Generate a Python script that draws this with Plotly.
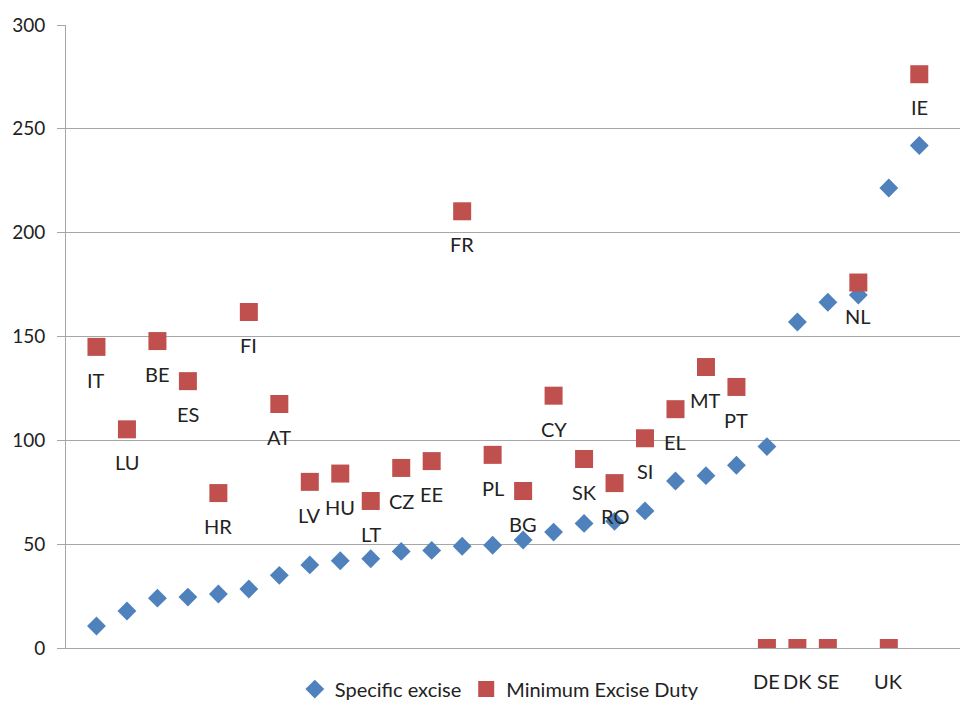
import plotly.graph_objects as go

# Country codes, in chart order
countries = ["IT", "LU", "BE", "ES", "HR", "FI", "AT", "LV", "HU", "LT",
             "CZ", "EE", "FR", "PL", "BG", "CY", "SK", "RO", "SI", "EL",
             "MT", "PT", "DE", "DK", "SE", "NL", "UK", "IE"]

# Specific excise (blue diamonds)
specific = [10.6, 17.8, 24.0, 24.5, 26.0, 28.4, 35.0, 40.0, 42.0, 43.0,
            46.5, 47.0, 49.0, 49.5, 52.0, 55.8, 60.0, 61.0, 66.0, 80.4,
            83.0, 88.0, 97.0, 157.0, 166.5, 170.0, 221.5, 242.0]

# Minimum excise duty (red squares)
minimum = [145.0, 105.3, 147.8, 128.5, 74.6, 161.8, 117.5, 80.0, 84.0, 70.8,
           86.7, 90.0, 210.3, 93.0, 75.6, 121.5, 91.0, 79.4, 101.0, 115.0,
           135.3, 125.7, 0, 0, 0, 176.0, 0, 276.3]

blue = "#4F81BD"
red = "#C0504D"
gray = "#A6A6A6"
font = "Lato"

fig = go.Figure()

fig.add_trace(go.Scatter(x=countries, y=specific, mode="markers",
  name="Specific excise",
  marker=dict(symbol="diamond", size=14.5, color=blue)))
fig.add_trace(go.Scatter(x=countries, y=minimum, mode="markers",
  name="Minimum Excise Duty",
  marker=dict(symbol="square", size=18, color=red)))

# Country labels below each red square
for c, v in zip(countries, minimum):
    fig.add_annotation(x=c, y=v, text=c, showarrow=False, yshift=-33,
      font=dict(family=font, size=20, color="#222222"))

fig.update_xaxes(type="category", range=[-1, 28.5], showticklabels=False,
  showgrid=False, showline=True, linecolor=gray, linewidth=1, ticks="",
  zeroline=False)
fig.update_yaxes(range=[0, 300], dtick=50, showgrid=True, gridcolor=gray,
  gridwidth=1, showline=True, linecolor=gray, linewidth=1, ticks="outside",
  ticklen=8, tickcolor=gray, zeroline=False, ticklabelstandoff=8,
  tickfont=dict(family=font, size=19, color="#222222"))

# The page body adds an 8px offset, so margins are shifted to compensate
fig.update_layout(
  width=968, height=701,
  margin=dict(l=58, r=11, t=17, b=61, autoexpand=False),
  paper_bgcolor="white", plot_bgcolor="white",
  showlegend=True,
  legend=dict(orientation="h", x=0.482, xanchor="center", y=-0.066,
    yanchor="middle", font=dict(family=font, size=20, color="#222222"),
    itemsizing="trace", bgcolor="rgba(0,0,0,0)"),
)

fig.write_html("out.html")
